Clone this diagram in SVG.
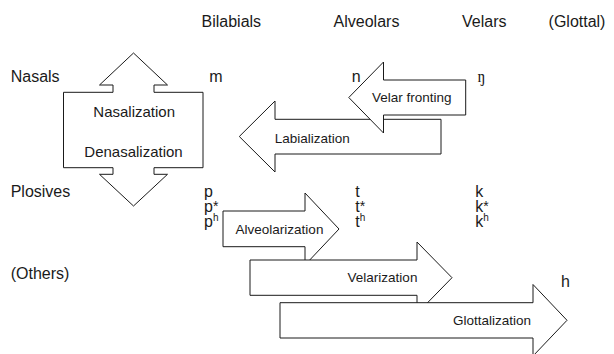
<svg xmlns="http://www.w3.org/2000/svg" width="614" height="354" viewBox="0 0 614 354">
<style>
.s{fill:#fff;stroke:#1a1a1a;stroke-width:1;stroke-linejoin:miter}
.h{font-family:"Liberation Sans",Arial,sans-serif;font-size:16px;fill:#1a1a1a}
.l{font-family:"Liberation Sans",Arial,sans-serif;font-size:13.5px;fill:#1a1a1a;text-anchor:middle}
.c{text-anchor:middle}
.sup{font-size:10px}
.ast{font-size:14px}
</style>
<rect width="614" height="354" fill="#fff"/>
<g id="headers">
<text class="h c" x="231.3" y="27">Bilabials</text>
<text class="h c" x="366.5" y="27">Alveolars</text>
<text class="h c" x="484.3" y="27">Velars</text>
<text class="h c" x="577" y="27">(Glottal)</text>
</g>
<g id="rows">
<text class="h" x="10.7" y="82">Nasals</text>
<text class="h" x="10.7" y="196.5">Plosives</text>
<text class="h" x="10.7" y="279">(Others)</text>
</g>
<g id="connectors">
<g id="nasalization">
<polygon class="s" points="133.5,53 167.5,85 154,85 154,92.3 203,92.3 203,167.7 154,167.7 154,174.3 167.5,174.3 133.5,206 99.5,174.3 113,174.3 113,167.7 63.5,167.7 63.5,92.3 113,92.3 113,85 99.5,85"/>
<text class="l" x="134.2" y="117" style="font-size:15px">Nasalization</text>
<text class="l" x="133.5" y="156.7" style="font-size:15px">Denasalization</text>
</g>
<g id="labialization">
<polygon class="s" points="239.3,136.5 275,101 275,119.3 441,119.3 441,154 275,154 275,172"/>
<text class="l" x="312.3" y="143.3">Labialization</text>
</g>
<g id="velar-fronting">
<polygon class="s" points="348.8,97.5 383.5,62 383.5,80 465.7,80 465.7,115 383.5,115 383.5,133"/>
<text class="l" x="411.7" y="101.7">Velar fronting</text>
</g>
<g id="alveolarization">
<polygon class="s" points="223,211 305,211 305,193 339,229 305,265 305,246.7 223,246.7"/>
<text class="l" x="279.5" y="234.3">Alveolarization</text>
</g>
<g id="velarization">
<polygon class="s" points="250,260 417,260 417,242 452,277.7 417,313.5 417,295.3 250,295.3"/>
<text class="l" x="382.5" y="281.7">Velarization</text>
</g>
<g id="glottalization">
<polygon class="s" points="280,302.7 533,302.7 533,284.5 567,320.3 533,356 533,338 280,338"/>
<text class="l" x="492" y="325">Glottalization</text>
</g>
</g>
<g id="segments">
<text class="h" x="209.3" y="82">m</text>
<text class="h" x="351.7" y="82">n</text>
<text class="h" x="477.5" y="82" style="font-family:'Liberation Serif','DejaVu Serif',serif">ŋ</text>
<text class="h" x="204" y="197">p</text>
<text class="h" x="204" y="211.5">p<tspan class="ast" dy="-1">*</tspan></text>
<text class="h" x="204" y="226.5">p<tspan class="sup" dy="-6">h</tspan></text>
<text class="h" x="355.3" y="197">t</text>
<text class="h" x="355.3" y="211.5">t<tspan class="ast" dy="-1">*</tspan></text>
<text class="h" x="355.3" y="226.5">t<tspan class="sup" dy="-6">h</tspan></text>
<text class="h" x="475.3" y="197">k</text>
<text class="h" x="475.3" y="211.5">k<tspan class="ast" dy="-1">*</tspan></text>
<text class="h" x="475.3" y="226.5">k<tspan class="sup" dy="-6">h</tspan></text>
<text class="h" x="561" y="287">h</text>
</g>
</svg>
